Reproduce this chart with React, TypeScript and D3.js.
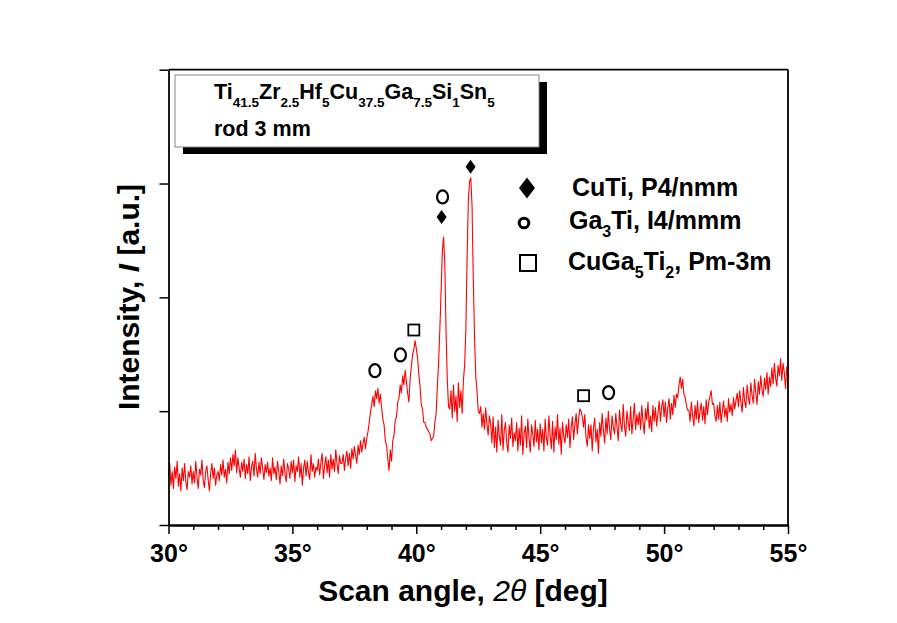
import React, { useEffect, useRef } from "react";
import * as d3 from "d3";

// XRD scan, 30..55 deg, one reading every 0.05 deg (counts)
const scanStart = 30;
const scanStep = 0.05;
const intensity = [
  // 30
  430, 540, 350, 470, 320, 510, 410, 560, 340, 450, 300, 500, 390, 540, 380, 310, 470, 420, 520, 360,
  // 31
  470, 370, 560, 420, 320, 490, 440, 570, 390, 330, 470, 520, 400, 300, 450, 540, 410, 500, 350, 440,
  // 32
  470, 390, 530, 440, 570, 420, 490, 370, 550, 450, 590, 480, 620, 520, 660, 460, 590, 500, 420, 550,
  // 33
  470, 580, 410, 530, 450, 600, 390, 510, 560, 430, 630, 490, 420, 550, 450, 590, 500, 400, 530, 460,
  // 34
  550, 430, 500, 390, 590, 450, 510, 400, 560, 470, 360, 520, 430, 580, 450, 380, 540, 490, 410, 560,
  // 35
  460, 570, 380, 520, 470, 600, 420, 540, 350, 500, 570, 430, 560, 460, 400, 620, 470, 540, 420, 510,
  // 36
  480, 580, 440, 550, 630, 410, 520, 600, 460, 570, 420, 620, 490, 580, 470, 660, 540, 450, 610, 540,
  // 37
  540, 620, 480, 590, 650, 520, 630, 500, 670, 580, 690, 610, 540, 700, 620, 740, 640, 720, 770, 670,
  // 38
  760, 820, 900, 990, 1060, 1130, 1040, 1180, 1110, 1200, 1070, 1150, 1030, 930, 880, 740, 700, 580, 480, 660,
  // 39
  560, 740, 790, 920, 950, 1080, 1110, 1230, 1160, 1310, 1230, 1360, 1260, 1160, 1080, 1280, 1390, 1500, 1540, 1620,
  // 40
  1550, 1470, 1330, 1220, 1060, 1020, 900, 900, 860, 840, 820, 800, 740, 760, 780, 900, 980, 1220, 1430, 1720,
  // 41
  2050, 2400, 2530, 2300, 1700, 1280, 1040, 1020, 1180, 940, 1230, 1000, 1130, 910, 1250, 1030, 1180, 980, 1270, 1400,
  // 42
  1720, 2350, 2850, 3020, 3050, 2800, 2150, 1650, 1300, 1180, 1000, 980, 1040, 860, 980, 840, 1030, 890, 790, 960,
  // 43
  890, 720, 950, 680, 860, 640, 920, 780, 700, 970, 660, 830, 900, 720, 640, 880, 760, 940, 690, 810,
  // 44
  740, 900, 650, 850, 700, 960, 620, 800, 870, 680, 930, 760, 640, 880, 800, 690, 920, 730, 840, 660,
  // 45
  890, 720, 840, 650, 930, 760, 700, 960, 790, 670, 910, 640, 860, 750, 970, 710, 850, 620, 900, 780,
  // 46
  720, 880, 770, 930, 680, 850, 950, 750, 880, 980, 800, 930, 1020, 1000, 950, 860, 970, 770, 690, 880,
  // 47
  760, 880, 650, 850, 940, 730, 840, 630, 900, 780, 980, 830, 720, 940, 800, 1000, 840, 750, 960, 860,
  // 48
  800, 980, 860, 740, 1010, 890, 820, 1060, 870, 780, 1000, 910, 830, 1040, 800, 930, 1070, 840, 970, 880,
  // 49
  990, 840, 1050, 900, 800, 1020, 920, 1080, 850, 960, 820, 1050, 910, 1030, 870, 980, 1090, 910, 1040, 1100,
  // 50
  950, 1080, 900, 1030, 1110, 930, 1070, 970, 1140, 1030, 1150, 1120, 1230, 1300, 1200, 1280, 1150, 1120, 1050, 1010,
  // 51
  1010, 910, 1080, 960, 870, 1050, 930, 1090, 900, 1000, 1070, 920, 1040, 890, 1100, 970, 1080, 1130, 1180, 1060,
  // 52
  1070, 960, 910, 1050, 930, 1080, 900, 1000, 1090, 950, 1030, 910, 1110, 990, 1060, 960, 1120, 1020, 1090, 1160,
  // 53
  1040, 1180, 1080, 990, 1210, 1090, 1030, 1230, 1120, 1060, 1250, 1140, 1070, 1280, 1160, 1060, 1260, 1150, 1310, 1190,
  // 54 .. 55
  1130, 1290, 1190, 1340, 1150, 1300, 1220, 1380, 1240, 1420, 1290, 1220, 1400, 1310, 1460, 1270, 1420, 1340, 1200, 1390,
  1300,
];

const xMajorTicks = [30, 35, 40, 45, 50, 55];
const xMinorTicks = [31, 32, 33, 34, 36, 37, 38, 39, 41, 42, 43, 44, 46, 47, 48, 49, 51, 52, 53, 54];
const yTicks = [0, 1000, 2000, 3000, 4000];

// phase markers above the peaks
const cuTiMarks = [{ x: 41.02, y: 2706 }, { x: 42.19, y: 3148 }];
const ga3TiMarks = [{ x: 38.33, y: 1356 }, { x: 39.36, y: 1494 }, { x: 41.06, y: 2882 }, { x: 47.76, y: 1163 }];
const cuGaTiMarks = [{ x: 39.9, y: 1713 }, { x: 46.75, y: 1136 }];

const FONT = "'Liberation Sans', Arial, sans-serif";

export default function App() {
  const ref = useRef<SVGSVGElement | null>(null);

  useEffect(() => {
    const svg = d3.select(ref.current);
    svg.selectAll("*").remove();

    const width = 897, height = 623;
    const left = 168.5, right = 788, top = 69.7, bottom = 525;

    const x = d3.scaleLinear().domain([30, 55]).range([left, right]);
    const y = d3.scaleLinear().domain([0, 4000]).range([bottom, top]);

    svg.append("rect").attr("width", width).attr("height", height).attr("fill", "#fff");

    const data = intensity.map((v, i) => [scanStart + i * scanStep, v] as [number, number]);
    const line = d3.line<[number, number]>().x(d => x(d[0])).y(d => y(d[1]));

    svg.append("path")
      .datum(data)
      .attr("d", line)
      .attr("fill", "none")
      .attr("stroke", "#ff0000")
      .attr("stroke-width", 1.1)
      .attr("stroke-linejoin", "round");

    // frame: top and right
    svg.append("line").attr("x1", left).attr("x2", right).attr("y1", top).attr("y2", top)
      .attr("stroke", "#000").attr("stroke-width", 1.8);
    svg.append("line").attr("x1", right).attr("x2", right).attr("y1", top).attr("y2", bottom)
      .attr("stroke", "#000").attr("stroke-width", 1.8);

    // x axis
    const gx = svg.append("g").attr("transform", `translate(0,${bottom})`);
    gx.call(d3.axisBottom(x).tickValues(xMinorTicks).tickSize(5).tickSizeOuter(0).tickFormat(() => ""));
    gx.append("g").call(
      d3.axisBottom(x).tickValues(xMajorTicks).tickSize(9).tickSizeOuter(0).tickFormat(d => `${d}°`)
    );
    gx.selectAll("path.domain").attr("stroke-width", 1.8);
    gx.selectAll(".tick line").attr("stroke-width", 1.5);
    gx.selectAll(".tick text")
      .attr("font-family", FONT).attr("font-weight", "bold").attr("font-size", 25)
      .attr("fill", "#000").attr("dy", "0").attr("y", 37);

    // y axis (no labels)
    const gy = svg.append("g").attr("transform", `translate(${left},0)`);
    gy.call(d3.axisLeft(y).tickValues(yTicks).tickSize(9).tickSizeOuter(0).tickFormat(() => ""));
    gy.selectAll("path.domain").attr("stroke-width", 1.8);
    gy.selectAll(".tick line").attr("stroke-width", 1.5);

    // axis titles
    const xt = svg.append("text")
      .attr("x", 463).attr("y", 601)
      .attr("text-anchor", "middle")
      .attr("font-family", FONT).attr("font-weight", "bold").attr("font-size", 30);
    xt.append("tspan").text("Scan angle, ");
    xt.append("tspan").attr("font-style", "italic").attr("font-weight", "normal").text("2θ");
    xt.append("tspan").text(" [deg]");

    const yt = svg.append("text")
      .attr("transform", "translate(139,297) rotate(-90)")
      .attr("text-anchor", "middle")
      .attr("font-family", FONT).attr("font-weight", "bold").attr("font-size", 30);
    yt.append("tspan").text("Intensity, ");
    yt.append("tspan").attr("font-style", "italic").text("I");
    yt.append("tspan").text(" [a.u.]");

    // sample box with shadow
    svg.append("rect").attr("x", 183).attr("y", 82).attr("width", 364).attr("height", 72).attr("fill", "#000");
    svg.append("rect").attr("x", 175).attr("y", 75).attr("width", 364).attr("height", 72)
      .attr("fill", "#fff").attr("stroke", "#888").attr("stroke-width", 1);

    const formula: [string, string][] = [
      ["Ti", "41.5"], ["Zr", "2.5"], ["Hf", "5"], ["Cu", "37.5"], ["Ga", "7.5"], ["Si", "1"], ["Sn", "5"],
    ];
    const ft = svg.append("text").attr("x", 214).attr("y", 99)
      .attr("font-family", FONT).attr("font-weight", "bold").attr("font-size", 21.5);
    formula.forEach(([el, n], i) => {
      ft.append("tspan").attr("dy", i === 0 ? 0 : -8).text(el);
      ft.append("tspan").attr("dy", 8).attr("font-size", 13.5).text(n);
    });
    svg.append("text").attr("x", 214).attr("y", 136)
      .attr("font-family", FONT).attr("font-weight", "bold").attr("font-size", 21.5)
      .text("rod 3 mm");

    // markers in plot
    const diamond = (cx: number, cy: number, w: number, h: number) =>
      `M${cx},${cy - h / 2}L${cx + w / 2},${cy}L${cx},${cy + h / 2}L${cx - w / 2},${cy}Z`;

    svg.append("g").selectAll("path").data(cuTiMarks).join("path")
      .attr("d", d => diamond(x(d.x), y(d.y), 10, 14)).attr("fill", "#000");
    svg.append("g").selectAll("ellipse").data(ga3TiMarks).join("ellipse")
      .attr("cx", d => x(d.x)).attr("cy", d => y(d.y)).attr("rx", 5.5).attr("ry", 6.5)
      .attr("fill", "none").attr("stroke", "#000").attr("stroke-width", 2.2);
    svg.append("g").selectAll("rect").data(cuGaTiMarks).join("rect")
      .attr("x", d => x(d.x) - 5.5).attr("y", d => y(d.y) - 5.5).attr("width", 11).attr("height", 11)
      .attr("fill", "none").attr("stroke", "#000").attr("stroke-width", 1.8);

    // legend
    const lg = svg.append("g").attr("font-family", FONT).attr("font-weight", "bold").attr("font-size", 25);
    lg.append("path").attr("d", diamond(527, 188, 16, 21)).attr("fill", "#000");
    lg.append("text").attr("x", 572).attr("y", 196).text("CuTi, P4/nmm");

    lg.append("circle").attr("cx", 524).attr("cy", 223).attr("r", 4.8)
      .attr("fill", "none").attr("stroke", "#000").attr("stroke-width", 3);
    const l2 = lg.append("text").attr("x", 569).attr("y", 229);
    l2.append("tspan").text("Ga");
    l2.append("tspan").attr("dy", 8).attr("font-size", 16).text("3");
    l2.append("tspan").attr("dy", -8).text("Ti, I4/mmm");

    lg.append("rect").attr("x", 520).attr("y", 255).attr("width", 16).attr("height", 16)
      .attr("fill", "none").attr("stroke", "#000").attr("stroke-width", 2);
    const l3 = lg.append("text").attr("x", 568).attr("y", 270);
    l3.append("tspan").text("CuGa");
    l3.append("tspan").attr("dy", 8).attr("font-size", 16).text("5");
    l3.append("tspan").attr("dy", -8).text("Ti");
    l3.append("tspan").attr("dy", 8).attr("font-size", 16).text("2");
    l3.append("tspan").attr("dy", -8).text(", Pm-3m");
  }, []);

  return (
    <svg
      ref={ref}
      width={897}
      height={623}
      style={{ position: "absolute", left: 0, top: 0, display: "block" }}
    />
  );
}
